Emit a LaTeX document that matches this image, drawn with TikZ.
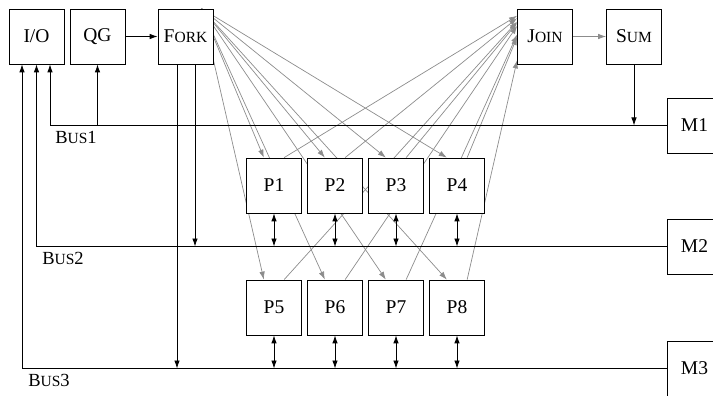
\documentclass[tikz,border=0pt]{standalone}
\usepackage{fontspec}
\setmainfont{Liberation Serif}
\usetikzlibrary{arrows.meta,intersections}
\pgfdeclarelayer{bg}
\pgfsetlayers{bg,main}
\newcommand{\mysc}[2]{#1{\fontsize{15.5}{15.5}\selectfont #2}}
\begin{document}
\begin{tikzpicture}[x=1pt,y=-1pt,
  box/.style={draw, fill=white, minimum width=55pt, minimum height=55pt, inner sep=0pt,
    line width=0.8pt, font=\fontsize{19.5}{19.5}\selectfont},
  buslabel/.style={inner sep=0pt, font=\fontsize{18.5}{18.5}\selectfont},
  bus/.style={line width=0.85pt, black},
  tip/.style={-{Latex[length=8pt,width=5.5pt]}},
  dtip/.style={{Latex[length=8pt,width=5.5pt]}-{Latex[length=8pt,width=5.5pt]}},
  flow/.style={black!45, line width=0.7pt, -{Latex[length=8pt,width=5.5pt]}}]
\useasboundingbox (0,0) rectangle (713,396);
% nodes
\node[box] (io) at (36.5,36.5) {I/O};
\node[box] (qg) at (97.5,36.5) {QG};
\node[box] (fork) at (185.5,36.5) {\mysc{F}{ORK}};
\node[box] (join) at (545,36.5) {\mysc{J}{OIN}};
\node[box] (sum) at (634,36.5) {\mysc{S}{UM}};
\node[box] (m1) at (694.5,125.5) {M1};
\node[box] (m2) at (694.5,246.5) {M2};
\node[box] (m3) at (694.5,368.5) {M3};
\foreach \i/\x in {1/274,2/335,3/396,4/457}
  \node[box] (p\i) at (\x,185.5) {P\i};
\foreach \i/\x in {5/274,6/335,7/396,8/457}
  \node[box] (p\i) at (\x,307.5) {P\i};
% gray fork/join connectors behind the boxes
\begin{pgfonlayer}{bg}
\foreach \i in {1,...,8} {
  \draw[flow] (fork.60) -- (p\i.110);
  \path[name path=joinedge] (join.north west) -- (join.south west);
  \path[name path=flowline] (p\i.70) -- (join.120);
  \draw[flow, name intersections={of=flowline and joinedge}] (p\i.70) -- (intersection-1);
}
\end{pgfonlayer}
\draw[flow] (join) -- (sum);
\draw[bus, tip] (qg) -- (fork);
% bus coordinates
\coordinate (b1l) at (50,125.5);
\coordinate (b2l) at (36.5,246.5);
\coordinate (b3l) at (22,368.5);
% Bus1
\draw[bus, tip] (m1.west) -- (b1l) -- (io.south -| b1l);
\draw[bus, tip] (qg.south |- b1l) -- (qg.south);
\draw[bus, tip] (sum.south) -- (sum.south |- b1l);
% Bus2
\draw[bus, tip] (m2.west) -- (b2l) -- (io.south -| b2l);
\coordinate (f2) at (195,64);
\draw[bus, tip] (fork.south -| f2) -- (f2 |- b2l);
% Bus3
\draw[bus, tip] (m3.west) -- (b3l) -- (io.south -| b3l);
\coordinate (f3) at (177,64);
\draw[bus, tip] (fork.south -| f3) -- (f3 |- b3l);
% processors to buses
\foreach \i in {1,...,4}
  \draw[bus, dtip] (p\i.south) -- (p\i.south |- b2l);
\foreach \i in {5,...,8}
  \draw[bus, dtip] (p\i.south) -- (p\i.south |- b3l);
% labels
\node[buslabel] (l1) at (76,137) {\mysc{B}{US}1};
\node[buslabel] (l2) at (63,258) {\mysc{B}{US}2};
\node[buslabel] (l3) at (49,380) {\mysc{B}{US}3};
\end{tikzpicture}
\end{document}
